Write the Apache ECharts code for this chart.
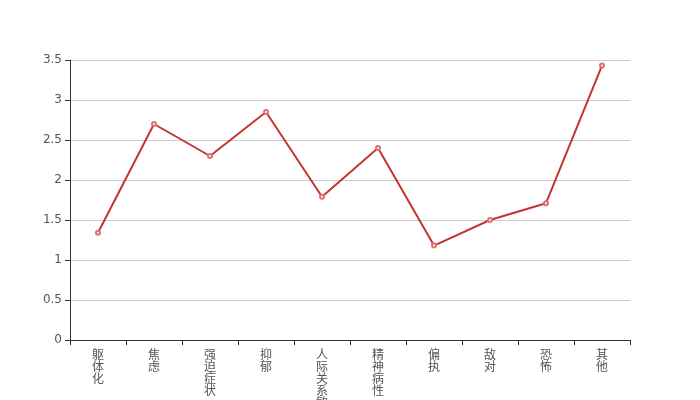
<!DOCTYPE html>
<html><head><meta charset="utf-8">
<script src="https://cdn.jsdelivr.net/npm/echarts@6/dist/echarts.min.js"></script>
<style>html,body{margin:0;padding:0;background:#fff}#c{width:700px;height:400px}</style>
</head><body><div id="c"></div>
<script>
var categories = ['躯体化','焦虑','强迫症状','抑郁','人际关系敏感','精神病性','偏执','敌对','恐怖','其他'];
var values = [1.34, 2.70, 2.30, 2.85, 1.79, 2.40, 1.18, 1.50, 1.71, 3.43];
var yTicks = {min: 0, max: 3.5, interval: 0.5};

var chart = echarts.init(document.getElementById('c'));
chart.setOption({
  animation: false,
  grid: {left: 70, right: 70, top: 60, bottom: 60, containLabel: false, outerBoundsMode: 'none'},
  xAxis: {
    type: 'category',
    data: categories,
    boundaryGap: true,
    axisLine: {lineStyle: {color: '#333'}},
    axisTick: {show: true, lineStyle: {color: '#333'}, alignWithLabel: false},
    axisLabel: {
      interval: 0,
      color: '#555',
      fontSize: 12,
      lineHeight: 12,
      fontFamily: 'Noto Sans CJK SC',
      formatter: function (v) { return v.split('').join('\n'); }
    }
  },
  yAxis: {
    type: 'value',
    min: yTicks.min, max: yTicks.max, interval: yTicks.interval,
    axisLine: {show: true, lineStyle: {color: '#333'}},
    axisTick: {show: true, lineStyle: {color: '#333'}},
    axisLabel: {color: '#555', fontSize: 12, fontFamily: 'DejaVu Sans'},
    splitLine: {lineStyle: {color: '#ccc'}}
  },
  series: [{
    type: 'line',
    data: values,
    symbol: 'emptyCircle',
    symbolSize: 4,
    lineStyle: {color: '#c23531', width: 2},
    itemStyle: {color: '#e07070', borderColor: '#d66', borderWidth: 1}
  }]
});
</script></body></html>
